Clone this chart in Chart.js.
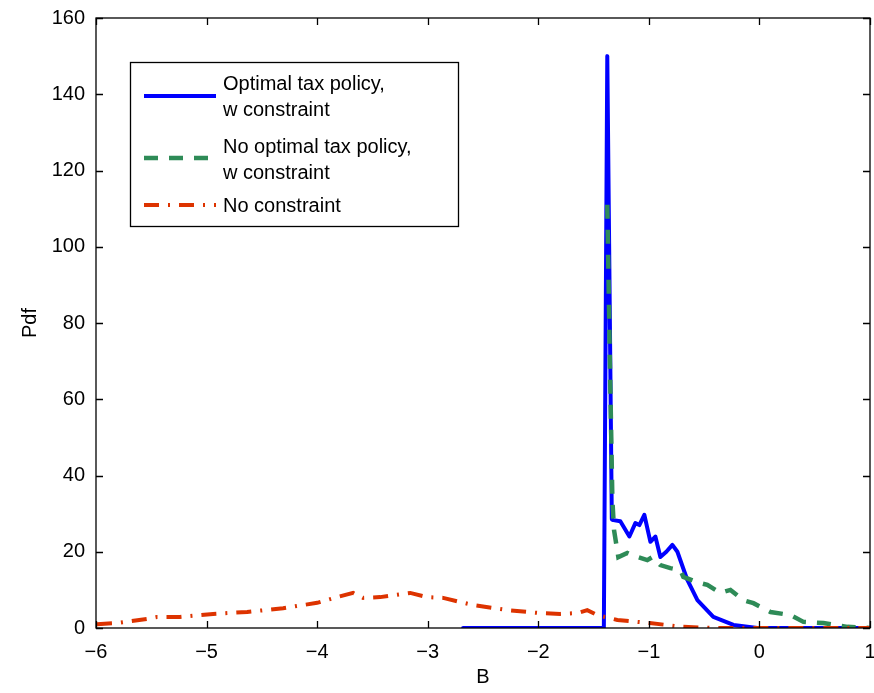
<!DOCTYPE html>
<html>
<head>
<meta charset="utf-8">
<script src="https://cdn.jsdelivr.net/npm/chart.js@4"></script>
<style>
  html, body { margin: 0; padding: 0; background: #fff; }
  #wrap { width: 874px; height: 693px; }
</style>
</head>
<body>
<div id="wrap"><canvas id="pdfChart" width="874" height="693"></canvas></div>
<script>
//---------------------------------------------------------
// Data
const blueX = [-2.68, -1.407, -1.376, -1.335, -1.321, -1.258, -1.176, -1.122, -1.086, -1.041, -0.986, -0.941, -0.896, -0.842, -0.787, -0.742, -0.652, -0.561, -0.417, -0.235, -0.018, 1];
const blueY = [0, 0, 150, 28.5, 28.3, 28, 24, 27.5, 27, 29.7, 22.6, 24, 18.6, 20, 21.8, 20, 12.6, 7.3, 2.9, 0.8, 0, 0];

// green rise is hidden under the blue spike, so its trace starts at its peak
const greenX = [-1.376, -1.35, -1.33, -1.315, -1.276, -1.195, -1.14, -1.014, -0.968, -0.896, -0.806, -0.715, -0.688, -0.561, -0.471, -0.353, -0.262, -0.145, -0.054, 0.1, 0.281, 0.398, 0.579, 0.796, 1];
const greenY = [111, 66, 33.6, 25.7, 18.6, 19.7, 19, 17.8, 18.6, 16.5, 15.7, 15.2, 13.4, 12, 11.3, 9.2, 10, 7.3, 6.5, 4.2, 3.4, 1.6, 1.3, 0.3, 0];

const redX = [-5.991, -5.81, -5.538, -5.448, -5.24, -4.941, -4.633, -4.308, -4.0, -3.819, -3.674, -3.584, -3.43, -3.158, -3.005, -2.86, -2.588, -2.281, -1.982, -1.801, -1.647, -1.557, -1.466, -1.285, -0.993, -0.692, -0.416, 0, 1];
const redY = [1, 1.3, 2.4, 2.9, 2.9, 3.7, 4.2, 5.2, 6.6, 8.1, 9.2, 7.9, 8.1, 9.2, 8.1, 7.9, 6, 4.7, 3.9, 3.7, 3.9, 4.7, 3.4, 2.1, 1.3, 0.3, 0, 0, 0];

const xTicks = [-6, -5, -4, -3, -2, -1, 0, 1];
const yTicks = [0, 20, 40, 60, 80, 100, 120, 140, 160];

const seriesNames = [["Optimal tax policy,", "w constraint"], ["No optimal tax policy,", "w constraint"], ["No constraint"]];

const FONT = "Liberation Sans, Arial, sans-serif";

// pair up x / y arrays into points for the scatter/line datasets
function toPoints(xs, ys) {
  return xs.map((x, i) => ({ x: x, y: ys[i] }));
}

//---------------------------------------------------------
// Box frame with inward ticks (MATLAB style)
const boxPlugin = {
  id: "boxFrame",
  afterDatasetsDraw(chart) {
    const { ctx, chartArea: a, scales } = chart;
    ctx.save();
    ctx.strokeStyle = "#000";
    ctx.lineWidth = 1.3;
    ctx.strokeRect(a.left, a.top, a.right - a.left, a.bottom - a.top);
    const len = 7;
    ctx.beginPath();
    xTicks.forEach(v => {
      const px = Math.round(scales.x.getPixelForValue(v)) + 0.5;
      ctx.moveTo(px, a.bottom); ctx.lineTo(px, a.bottom - len);
      ctx.moveTo(px, a.top); ctx.lineTo(px, a.top + len);
    });
    yTicks.forEach(v => {
      const py = Math.round(scales.y.getPixelForValue(v)) + 0.5;
      ctx.moveTo(a.left, py); ctx.lineTo(a.left + len, py);
      ctx.moveTo(a.right, py); ctx.lineTo(a.right - len, py);
    });
    ctx.stroke();
    ctx.restore();
  }
};

//---------------------------------------------------------
// Legend box in the upper left of the plot, with two-line labels
const legendPlugin = {
  id: "boxLegend",
  afterDraw(chart) {
    const { ctx } = chart;
    const sets = chart.data.datasets;
    const box = { x: 130, y: 62, w: 328, h: 164 };
    const lineY = [96, 158, 205];
    const textY = [[84, 110], [147, 173], [206]];
    ctx.save();
    ctx.fillStyle = "#fff";
    ctx.fillRect(box.x, box.y, box.w, box.h);
    ctx.strokeStyle = "#000";
    ctx.lineWidth = 1.3;
    ctx.strokeRect(box.x + 0.5, box.y + 0.5, box.w, box.h);
    sets.forEach((ds, i) => {
      ctx.beginPath();
      ctx.strokeStyle = ds.borderColor;
      ctx.lineWidth = ds.borderWidth;
      ctx.setLineDash(ds.borderDash || []);
      ctx.moveTo(144, lineY[i]);
      ctx.lineTo(216, lineY[i]);
      ctx.stroke();
      ctx.setLineDash([]);
      ctx.fillStyle = "#000";
      ctx.font = "20px " + FONT;
      ctx.textBaseline = "middle";
      ctx.textAlign = "left";
      seriesNames[i].forEach((t, j) => ctx.fillText(t, 223, textY[i][j]));
    });
    ctx.restore();
  }
};

// drop the label overflow padding so the plot box fills the canvas like the reference
function noOverflow(s) {
  s.paddingLeft = 0; s.paddingRight = 0; s.paddingTop = 0; s.paddingBottom = 0;
}

//---------------------------------------------------------
// Chart
const ctx = document.getElementById("pdfChart").getContext("2d");
new Chart(ctx, {
  type: "scatter",
  data: {
    datasets: [
      {
        label: "Optimal tax policy, w constraint",
        data: toPoints(blueX, blueY),
        showLine: true,
        borderColor: "#0000ff",
        borderWidth: 4,
        pointRadius: 0,
        borderJoinStyle: "round",
        borderCapStyle: "round",
        order: 3, // drawn first (bottom)
      },
      {
        label: "No optimal tax policy, w constraint",
        data: toPoints(greenX, greenY),
        showLine: true,
        borderColor: "#2e8b57",
        borderWidth: 4.5,
        borderDash: [14, 11],
        pointRadius: 0,
        order: 2,
      },
      {
        label: "No constraint",
        data: toPoints(redX, redY),
        showLine: true,
        borderColor: "#dd3300",
        borderWidth: 4,
        borderDash: [15, 9, 2, 9],
        pointRadius: 0,
        order: 1, // drawn last (top)
      },
    ],
  },
  options: {
    responsive: false,
    animation: false,
    layout: { padding: { top: 18, right: 4, left: 0, bottom: 0 } },
    plugins: { legend: { display: false }, tooltip: { enabled: false } },
    scales: {
      x: {
        type: "linear",
        min: -6,
        max: 1,
        afterBuildTicks: (s) => { s.ticks = xTicks.map(v => ({ value: v })); },
        afterFit: (s) => { s.height = 65; noOverflow(s); },
        grid: { display: false, drawTicks: false },
        border: { display: false },
        ticks: {
          color: "#000",
          font: { family: FONT, size: 20 },
          padding: 12,
          maxRotation: 0,
          callback: (v) => String(v).replace("-", "\u2212"),
        },
        title: { display: true, text: "B", color: "#000", font: { family: FONT, size: 20 }, padding: { top: 4 } },
      },
      y: {
        min: 0,
        max: 160,
        afterBuildTicks: (s) => { s.ticks = yTicks.map(v => ({ value: v })); },
        afterFit: (s) => { s.width = 96; noOverflow(s); },
        grid: { display: false, drawTicks: false },
        border: { display: false },
        ticks: {
          color: "#000",
          font: { family: FONT, size: 20 },
          padding: 11,
        },
        title: { display: true, text: "Pdf", color: "#000", font: { family: FONT, size: 20 }, padding: { top: 18, bottom: 0 } },
      },
    },
  },
  plugins: [boxPlugin, legendPlugin],
});
</script>
</body>
</html>
